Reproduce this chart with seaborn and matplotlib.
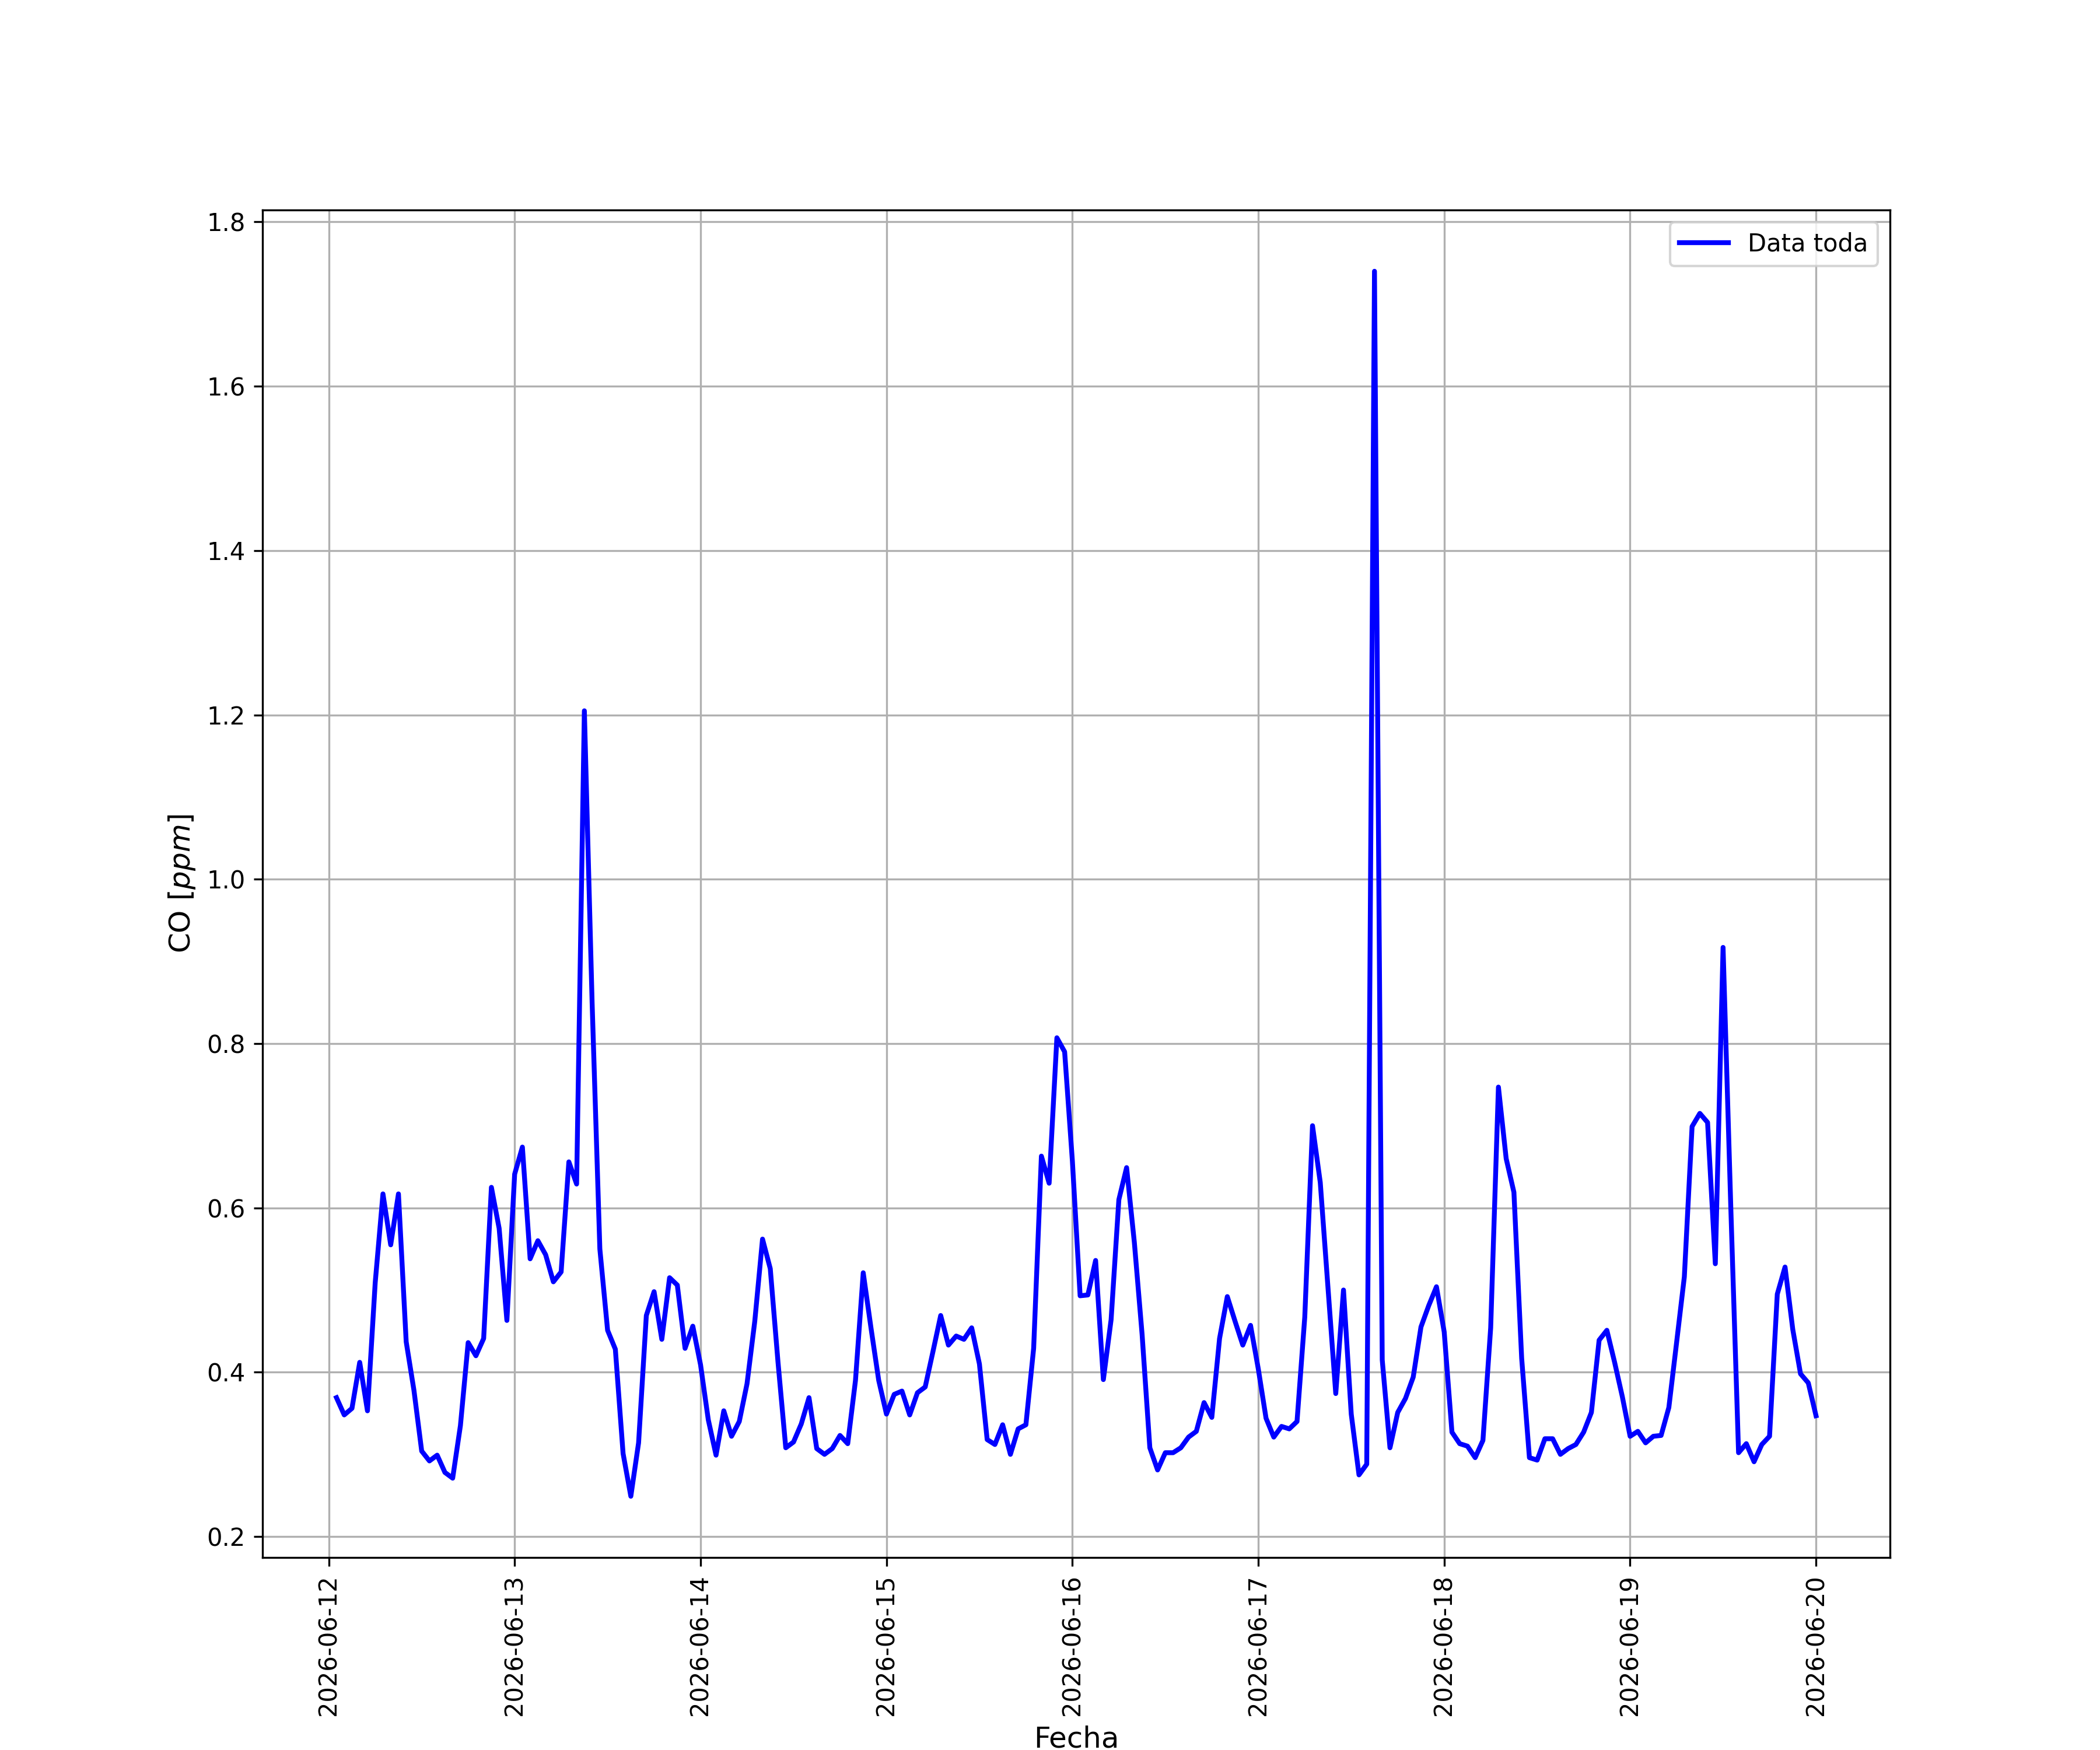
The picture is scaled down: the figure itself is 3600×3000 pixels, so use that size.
import numpy as np
import pandas as pd
import matplotlib
matplotlib.use("Agg")
import matplotlib.pyplot as plt
import matplotlib.dates as mdates
import seaborn as sns

# Hourly CO readings, 2026-06-12 01:00 to 2026-06-20 00:00
start_time = "2026-06-12 01:00"
n_hours = 192
co_values = [
    0.369, 0.348, 0.356, 0.412, 0.353, 0.509, 0.617, 0.555, 0.617, 0.437, 0.378, 0.304,
    0.292, 0.299, 0.278, 0.271, 0.335, 0.436, 0.420, 0.441, 0.625, 0.575, 0.463, 0.641,
    0.674, 0.538, 0.560, 0.543, 0.510, 0.522, 0.656, 0.629, 1.205, 0.850, 0.550, 0.451,
    0.428, 0.301, 0.249, 0.314, 0.469, 0.498, 0.440, 0.515, 0.506, 0.429, 0.456, 0.409,
    0.342, 0.299, 0.353, 0.322, 0.340, 0.386, 0.462, 0.562, 0.526, 0.412, 0.308, 0.315,
    0.337, 0.369, 0.307, 0.300, 0.307, 0.323, 0.313, 0.390, 0.521, 0.454, 0.390, 0.349,
    0.373, 0.377, 0.348, 0.375, 0.382, 0.425, 0.469, 0.433, 0.444, 0.440, 0.454, 0.410,
    0.318, 0.312, 0.336, 0.300, 0.331, 0.336, 0.429, 0.663, 0.630, 0.807, 0.790, 0.657,
    0.493, 0.494, 0.536, 0.391, 0.464, 0.610, 0.649, 0.558, 0.446, 0.308, 0.281, 0.302,
    0.302, 0.308, 0.321, 0.328, 0.363, 0.345, 0.441, 0.492, 0.462, 0.433, 0.457, 0.404,
    0.344, 0.321, 0.334, 0.331, 0.340, 0.467, 0.700, 0.631, 0.503, 0.374, 0.500, 0.349,
    0.275, 0.288, 1.740, 0.415, 0.308, 0.351, 0.368, 0.394, 0.455, 0.481, 0.504, 0.449,
    0.327, 0.313, 0.310, 0.296, 0.317, 0.454, 0.747, 0.660, 0.619, 0.417, 0.296, 0.293,
    0.319, 0.319, 0.300, 0.307, 0.312, 0.327, 0.351, 0.439, 0.451, 0.412, 0.370, 0.322,
    0.328, 0.314, 0.322, 0.323, 0.357, 0.436, 0.516, 0.699, 0.715, 0.704, 0.532, 0.917,
    0.600, 0.302, 0.313, 0.291, 0.312, 0.322, 0.495, 0.528, 0.452, 0.398, 0.387, 0.347,
]

fechas = pd.date_range(start_time, periods=n_hours, freq="h")
df = pd.DataFrame({"Fecha": fechas, "CO": co_values})

fig, ax = plt.subplots(figsize=(12, 10), dpi=300)
sns.lineplot(data=df, x="Fecha", y="CO", color="blue", linewidth=2,
             label="Data toda", ax=ax)

ax.xaxis.set_major_locator(mdates.DayLocator())
ax.xaxis.set_major_formatter(mdates.DateFormatter("%Y-%m-%d"))
plt.xticks(rotation=90)
ax.grid(True)
ax.set_xlabel("Fecha", fontsize=12)
ax.set_ylabel("CO [$ppm$]", fontsize=12)
ax.legend(loc="upper right")

plt.savefig("out.png", dpi=300)
plt.close()
